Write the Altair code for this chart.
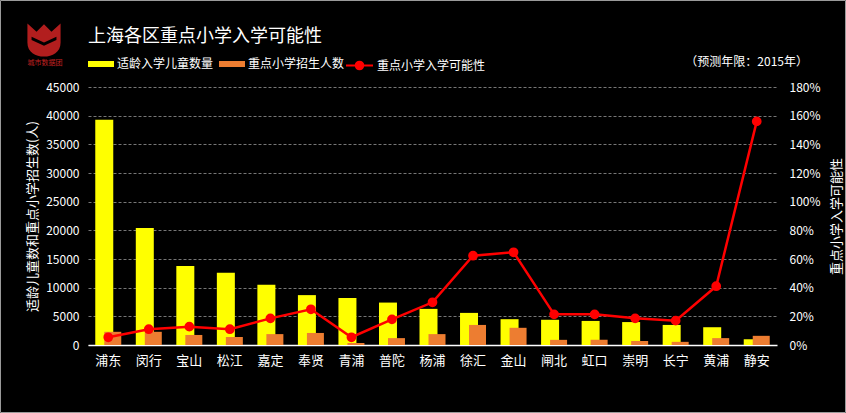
import altair as alt
import pandas as pd

FONT = "Noto Sans CJK SC"

districts = ["浦东", "闵行", "宝山", "松江", "嘉定", "奉贤", "青浦", "普陀", "杨浦",
             "徐汇", "金山", "闸北", "虹口", "崇明", "长宁", "黄浦", "静安"]
children = [39300, 20400, 13800, 12600, 10500, 8700, 8200, 7400, 6300,
            5600, 4500, 4400, 4200, 4000, 3500, 3100, 1000]
enroll = [2300, 2300, 1750, 1400, 1900, 2100, 350, 1200, 1900,
          3500, 3000, 900, 900, 700, 550, 1200, 1600]
prob = [0.054, 0.11, 0.128, 0.11, 0.186, 0.249, 0.054, 0.179, 0.298,
        0.623, 0.647, 0.214, 0.214, 0.186, 0.17, 0.41, 1.56]

s1 = "适龄入学儿童数量"
s2 = "重点小学招生人数"
s3 = "重点小学入学可能性"
left_ticks = [0, 5000, 10000, 15000, 20000, 25000, 30000, 35000, 40000, 45000]
right_ticks = [0, 0.2, 0.4, 0.6, 0.8, 1.0, 1.2, 1.4, 1.6, 1.8]

title_text = "上海各区重点小学入学可能性"
note_text = "（预测年限：2015年）"
logo_text = "城市数据团"

bars_df = pd.DataFrame({
    "district": districts * 2,
    "series": [s1] * len(districts) + [s2] * len(districts),
    "value": children + enroll,
})
line_df = pd.DataFrame({"district": districts, "prob": prob, "series": [s3] * len(districts)})

x = alt.X("district:N", sort=districts, title=None,
          scale=alt.Scale(paddingInner=0, paddingOuter=0),
          axis=alt.Axis(labelAngle=0, labelColor="white", labelFontSize=13, labelFont=FONT,
                        labelPadding=9, ticks=False, domainColor="white", domainWidth=1.5, grid=False))

y_left = alt.Y("value:Q", title="适龄儿童数和重点小学招生数(人)",
               scale=alt.Scale(domain=[0, 45000], nice=False),
               axis=alt.Axis(values=left_ticks, format="d", labelColor="white", labelFontSize=12,
                             labelFont=FONT, labelPadding=9, ticks=False, domain=False, grid=True,
                             gridColor="#777777", gridDash=[3, 2], gridWidth=1,
                             titleColor="white", titleFontSize=13, titleFont=FONT,
                             titleFontWeight="normal", titlePadding=6))

color = alt.Color("series:N", scale=alt.Scale(domain=[s1, s2], range=["#FFFF00", "#ED7D31"]),
                  legend=alt.Legend(orient="none", legendX=0, legendY=-36, direction="horizontal",
                                    title=None, symbolType="M-1,-0.23H1V0.23H-1Z", symbolSize=676,
                                    symbolStrokeWidth=0, labelColor="white", labelFontSize=12,
                                    labelFont=FONT, labelOffset=3, columnPadding=5))

yellow = alt.Chart(bars_df).transform_filter(alt.datum.series == s1).mark_bar(
    width=18, xOffset=-4).encode(x=x, y=y_left, color=color)
orange = alt.Chart(bars_df).transform_filter(alt.datum.series == s2).mark_bar(
    width=17, xOffset=4.5).encode(x=x, y=y_left, color=color)
bars = alt.layer(yellow, orange)

y_right = alt.Y("prob:Q", title=s3, scale=alt.Scale(domain=[0, 1.8], nice=False),
                axis=alt.Axis(orient="right", values=right_ticks, format=".0%", labelColor="white",
                              labelFontSize=12, labelFont=FONT, labelPadding=12, ticks=False,
                              domain=False, grid=False, titleColor="white", titleFontSize=13,
                              titleFont=FONT, titleFontWeight="normal", titlePadding=23,
                              titleAngle=270))

line = alt.Chart(line_df).mark_line(
    color="#FF0000", strokeWidth=2.5,
    point=alt.OverlayMarkDef(color="#FF0000", fill="#FF0000", size=60, filled=True)
).encode(
    x=x, y=y_right,
    stroke=alt.Stroke("series:N", scale=alt.Scale(domain=[s3], range=["#FF0000"]),
                      legend=alt.Legend(orient="none", legendX=257, legendY=-36, title=None,
                                        symbolType="M-1,0H1M-0.28,0A0.28,0.28 0 1,1 0.28,0A0.28,0.28 0 1,1 -0.28,0Z",
                                        symbolSize=729, symbolFillColor="#FF0000",
                                        symbolStrokeColor="#FF0000", symbolStrokeWidth=2,
                                        labelColor="white", labelFontSize=12, labelFont=FONT,
                                        labelOffset=3))
)

note = alt.Chart(pd.DataFrame({"t": [note_text]})).mark_text(
    align="right", baseline="middle", color="white", fontSize=12, font=FONT
).encode(text="t:N", x=alt.value(720), y=alt.value(-25))

logo_shape = alt.Chart(pd.DataFrame({"t": ["logo"]})).mark_point(
    shape="M-1,-1L-0.45,-0.5L0,-0.95L0.45,-0.5L1,-1L1,0.15C1,0.75 0.5,1 0,1C-0.5,1 -1,0.75 -1,0.15Z",
    size=1100, filled=True, color="#B21E1E", opacity=1
).encode(x=alt.value(-44), y=alt.value(-47))
logo_cut = alt.Chart(pd.DataFrame({"t": ["cut"]})).mark_point(
    shape="M-0.75,-0.2L0,0.15L0.75,-0.2L0.75,0.0L0,0.35L-0.75,0.0Z",
    size=1100, filled=True, color="#000000", opacity=1
).encode(x=alt.value(-44), y=alt.value(-47))
logo_label = alt.Chart(pd.DataFrame({"t": [logo_text]})).mark_text(
    align="center", baseline="middle", color="#C02020", fontSize=7, font=FONT
).encode(text="t:N", x=alt.value(-43), y=alt.value(-24))

frame = alt.Chart(pd.DataFrame({"t": ["f"]})).mark_rect(
    fillOpacity=0, stroke="#9A9A9A", strokeWidth=1
).encode(x=alt.value(-87.5), x2=alt.value(757.5), y=alt.value(-86.5), y2=alt.value(325.5))

chart = alt.layer(bars, line, note, logo_shape, logo_cut, logo_label, frame).resolve_scale(
    y="independent"
).properties(
    width=689, height=258,
    title=alt.TitleParams(title_text, anchor="start", frame="group", color="white", fontSize=18,
                          font=FONT, fontWeight="normal", offset=0, baseline="alphabetic", dy=60),
    autosize=alt.AutoSizeParams(type="none"),
    padding={"left": 88, "top": 87, "right": 69, "bottom": 68},
).configure(background="#000000", font=FONT).configure_view(stroke=None)

chart.save("out.html", embed_options={"renderer": "svg", "actions": False})
